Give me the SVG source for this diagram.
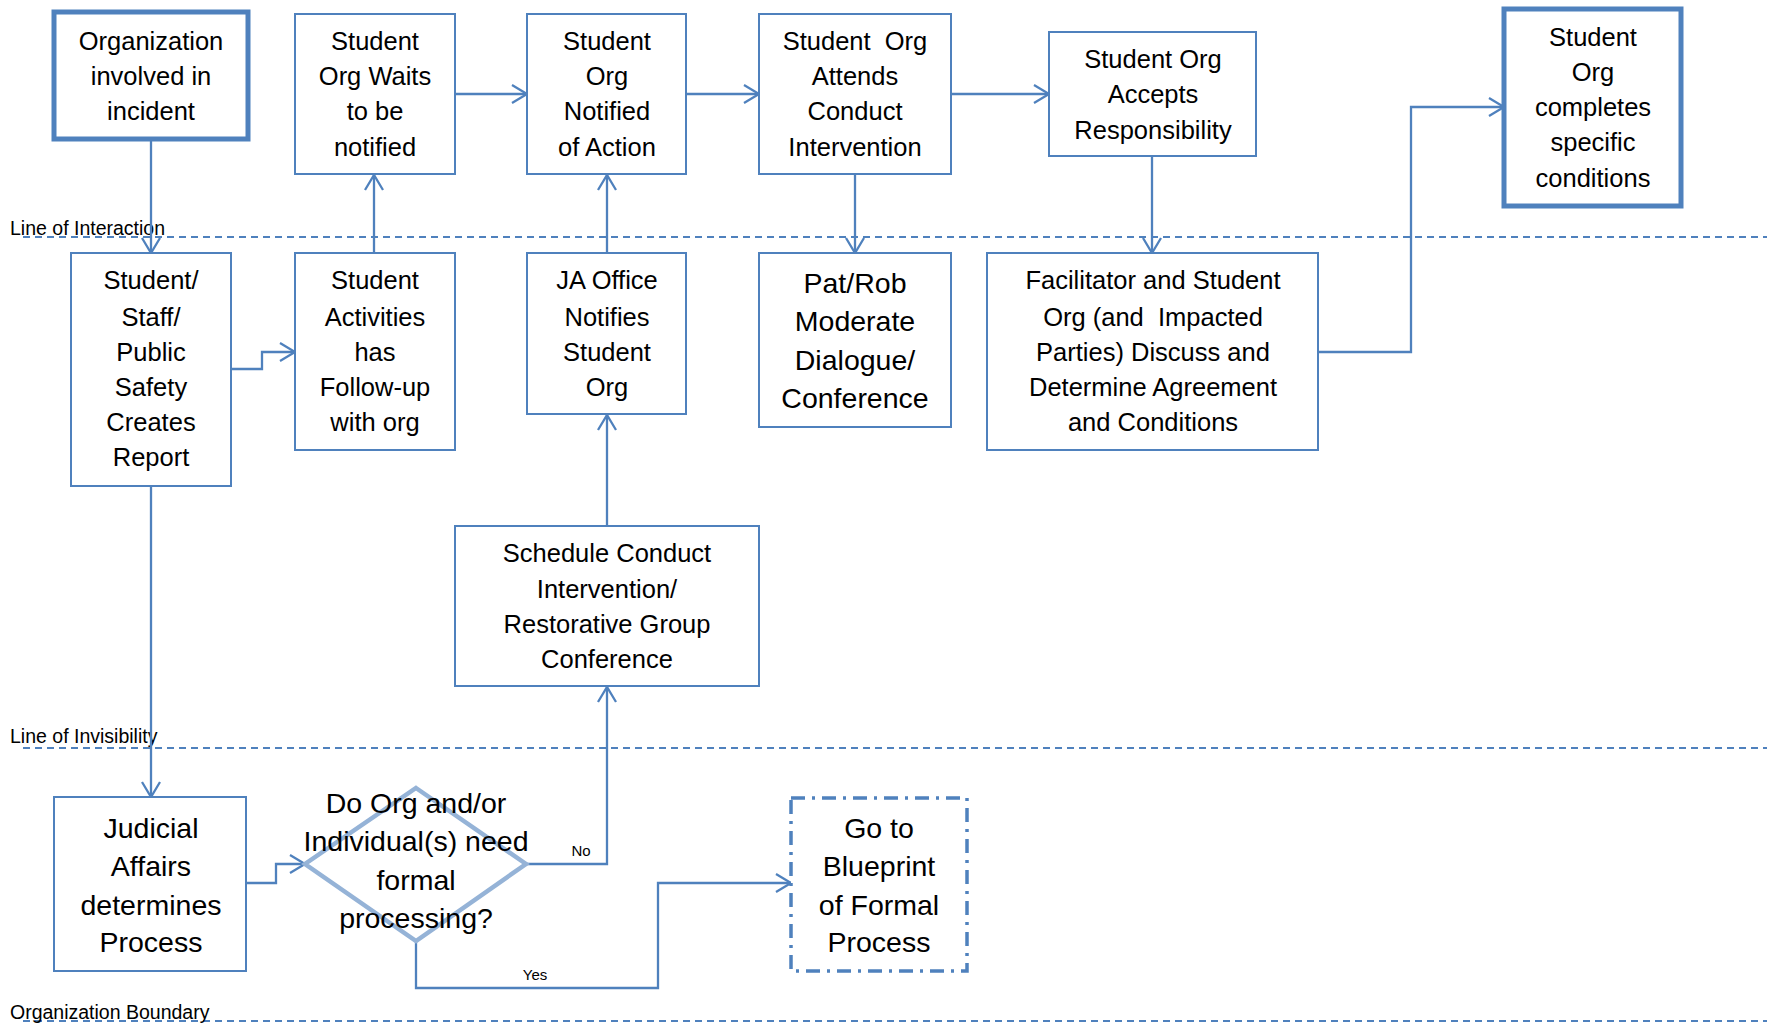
<svg xmlns="http://www.w3.org/2000/svg" width="1773" height="1024" viewBox="0 0 1773 1024">
<style>
.box{fill:#fff;stroke:#4F81BD;stroke-width:2}
.thick{fill:#fff;stroke:#4F81BD;stroke-width:5}
.t{font-family:"Liberation Sans",Arial,sans-serif;font-size:25.5px;fill:#000;text-anchor:middle}
.tb{font-family:"Liberation Sans",Arial,sans-serif;font-size:28.5px;fill:#000;text-anchor:middle}
.lbl{font-family:"Liberation Sans",Arial,sans-serif;font-size:19.5px;fill:#000}
.sm{font-family:"Liberation Sans",Arial,sans-serif;font-size:15px;fill:#000;text-anchor:middle}
.dash{stroke:#4F81BD;stroke-width:2;stroke-dasharray:7 5;fill:none}
.c{fill:none;stroke:#4F81BD;stroke-width:2.3;marker-end:url(#arr)}
</style>
<defs>
<marker id="arr" markerUnits="userSpaceOnUse" markerWidth="20" markerHeight="22" refX="16" refY="10" orient="auto">
<path d="M1,1 L16,10 L1,19" fill="none" stroke="#4F81BD" stroke-width="2.3"/>
</marker>
</defs>

<g id="lanes">
<line class="dash" x1="23" y1="237" x2="1767" y2="237"/>
<text class="lbl" x="10" y="235">Line of Interaction</text>
<line class="dash" x1="23" y1="748" x2="1767" y2="748"/>
<text class="lbl" x="10" y="743">Line of Invisibility</text>
<line class="dash" x1="23" y1="1021" x2="1767" y2="1021"/>
<text class="lbl" x="10" y="1019">Organization Boundary</text>
</g>

<g id="connectors">
<path class="c" d="M151,139 V253"/>
<path class="c" d="M231,369 H262 V352 H295"/>
<path class="c" d="M374,253 V175"/>
<path class="c" d="M455,94 H527"/>
<path class="c" d="M607,253 V175"/>
<path class="c" d="M686,94 H759"/>
<path class="c" d="M855,174 V253"/>
<path class="c" d="M951,94 H1049"/>
<path class="c" d="M1152,156 V253"/>
<path class="c" d="M1318,352 H1411 V107 H1504"/>
<path class="c" d="M151,486 V797"/>
<path class="c" d="M246,883 H276 V864 H305"/>
<path class="c" d="M526,864 H607 V687"/>
<path class="c" d="M607,526 V415"/>
<path class="c" d="M416,941 V988 H658 V883 H791"/>
<text class="sm" x="581" y="856">No</text>
<text class="sm" x="535" y="980">Yes</text>
</g>

<g id="n-org">
<rect class="thick" x="54" y="12" width="194" height="127"/>
<text class="t" x="151" y="50">Organization</text>
<text class="t" x="151" y="85">involved in</text>
<text class="t" x="151" y="120">incident</text>
</g>
<g id="n-waits">
<rect class="box" x="295" y="14" width="160" height="160"/>
<text class="t" x="375" y="50">Student</text>
<text class="t" x="375" y="85">Org Waits</text>
<text class="t" x="375" y="120">to be</text>
<text class="t" x="375" y="156">notified</text>
</g>
<g id="n-notified">
<rect class="box" x="527" y="14" width="159" height="160"/>
<text class="t" x="607" y="50">Student</text>
<text class="t" x="607" y="85">Org</text>
<text class="t" x="607" y="120">Notified</text>
<text class="t" x="607" y="156">of Action</text>
</g>
<g id="n-attends">
<rect class="box" x="759" y="14" width="192" height="160"/>
<text class="t" x="855" y="50" xml:space="preserve">Student  Org</text>
<text class="t" x="855" y="85">Attends</text>
<text class="t" x="855" y="120">Conduct</text>
<text class="t" x="855" y="156">Intervention</text>
</g>
<g id="n-accepts">
<rect class="box" x="1049" y="32" width="207" height="124"/>
<text class="t" x="1153" y="68">Student Org</text>
<text class="t" x="1153" y="103">Accepts</text>
<text class="t" x="1153" y="139">Responsibility</text>
</g>
<g id="n-completes">
<rect class="thick" x="1504" y="9" width="177" height="197"/>
<text class="t" x="1593" y="46">Student</text>
<text class="t" x="1593" y="81">Org</text>
<text class="t" x="1593" y="116">completes</text>
<text class="t" x="1593" y="151">specific</text>
<text class="t" x="1593" y="187">conditions</text>
</g>
<g id="n-report">
<rect class="box" x="71" y="253" width="160" height="233"/>
<text class="t" x="151" y="289">Student/</text>
<text class="t" x="151" y="326">Staff/</text>
<text class="t" x="151" y="361">Public</text>
<text class="t" x="151" y="396">Safety</text>
<text class="t" x="151" y="431">Creates</text>
<text class="t" x="151" y="466">Report</text>
</g>
<g id="n-activities">
<rect class="box" x="295" y="253" width="160" height="197"/>
<text class="t" x="375" y="289">Student</text>
<text class="t" x="375" y="326">Activities</text>
<text class="t" x="375" y="361">has</text>
<text class="t" x="375" y="396">Follow-up</text>
<text class="t" x="375" y="431">with org</text>
</g>
<g id="n-ja">
<rect class="box" x="527" y="253" width="159" height="161"/>
<text class="t" x="607" y="289">JA Office</text>
<text class="t" x="607" y="326">Notifies</text>
<text class="t" x="607" y="361">Student</text>
<text class="t" x="607" y="396">Org</text>
</g>
<g id="n-patrob">
<rect class="box" x="759" y="253" width="192" height="174"/>
<text class="tb" x="855" y="293">Pat/Rob</text>
<text class="tb" x="855" y="331">Moderate</text>
<text class="tb" x="855" y="370">Dialogue/</text>
<text class="tb" x="855" y="408">Conference</text>
</g>
<g id="n-facilitator">
<rect class="box" x="987" y="253" width="331" height="197"/>
<text class="t" x="1153" y="289">Facilitator and Student</text>
<text class="t" x="1153" y="326" xml:space="preserve">Org (and  Impacted</text>
<text class="t" x="1153" y="361">Parties) Discuss and</text>
<text class="t" x="1153" y="396">Determine Agreement</text>
<text class="t" x="1153" y="431">and Conditions</text>
</g>
<g id="n-schedule">
<rect class="box" x="455" y="526" width="304" height="160"/>
<text class="t" x="607" y="562">Schedule Conduct</text>
<text class="t" x="607" y="598">Intervention/</text>
<text class="t" x="607" y="633">Restorative Group</text>
<text class="t" x="607" y="668">Conference</text>
</g>
<g id="n-judicial">
<rect class="box" x="54" y="797" width="192" height="174"/>
<text class="tb" x="151" y="838">Judicial</text>
<text class="tb" x="151" y="876">Affairs</text>
<text class="tb" x="151" y="915">determines</text>
<text class="tb" x="151" y="952">Process</text>
</g>
<g id="n-decision">
<polygon points="416,788 526,864 416,941 305,864" fill="none" stroke="#95B3D7" stroke-width="4.5"/>
<text class="tb" x="416" y="813">Do Org and/or</text>
<text class="tb" x="416" y="851">Individual(s) need</text>
<text class="tb" x="416" y="890">formal</text>
<text class="tb" x="416" y="928">processing?</text>
</g>
<g id="n-blueprint">
<rect x="791" y="798" width="176" height="173" fill="#fff" stroke="#4F81BD" stroke-width="3.5" stroke-dasharray="14 7 3 7"/>
<text class="tb" x="879" y="838">Go to</text>
<text class="tb" x="879" y="876">Blueprint</text>
<text class="tb" x="879" y="915">of Formal</text>
<text class="tb" x="879" y="952">Process</text>
</g>
</svg>
